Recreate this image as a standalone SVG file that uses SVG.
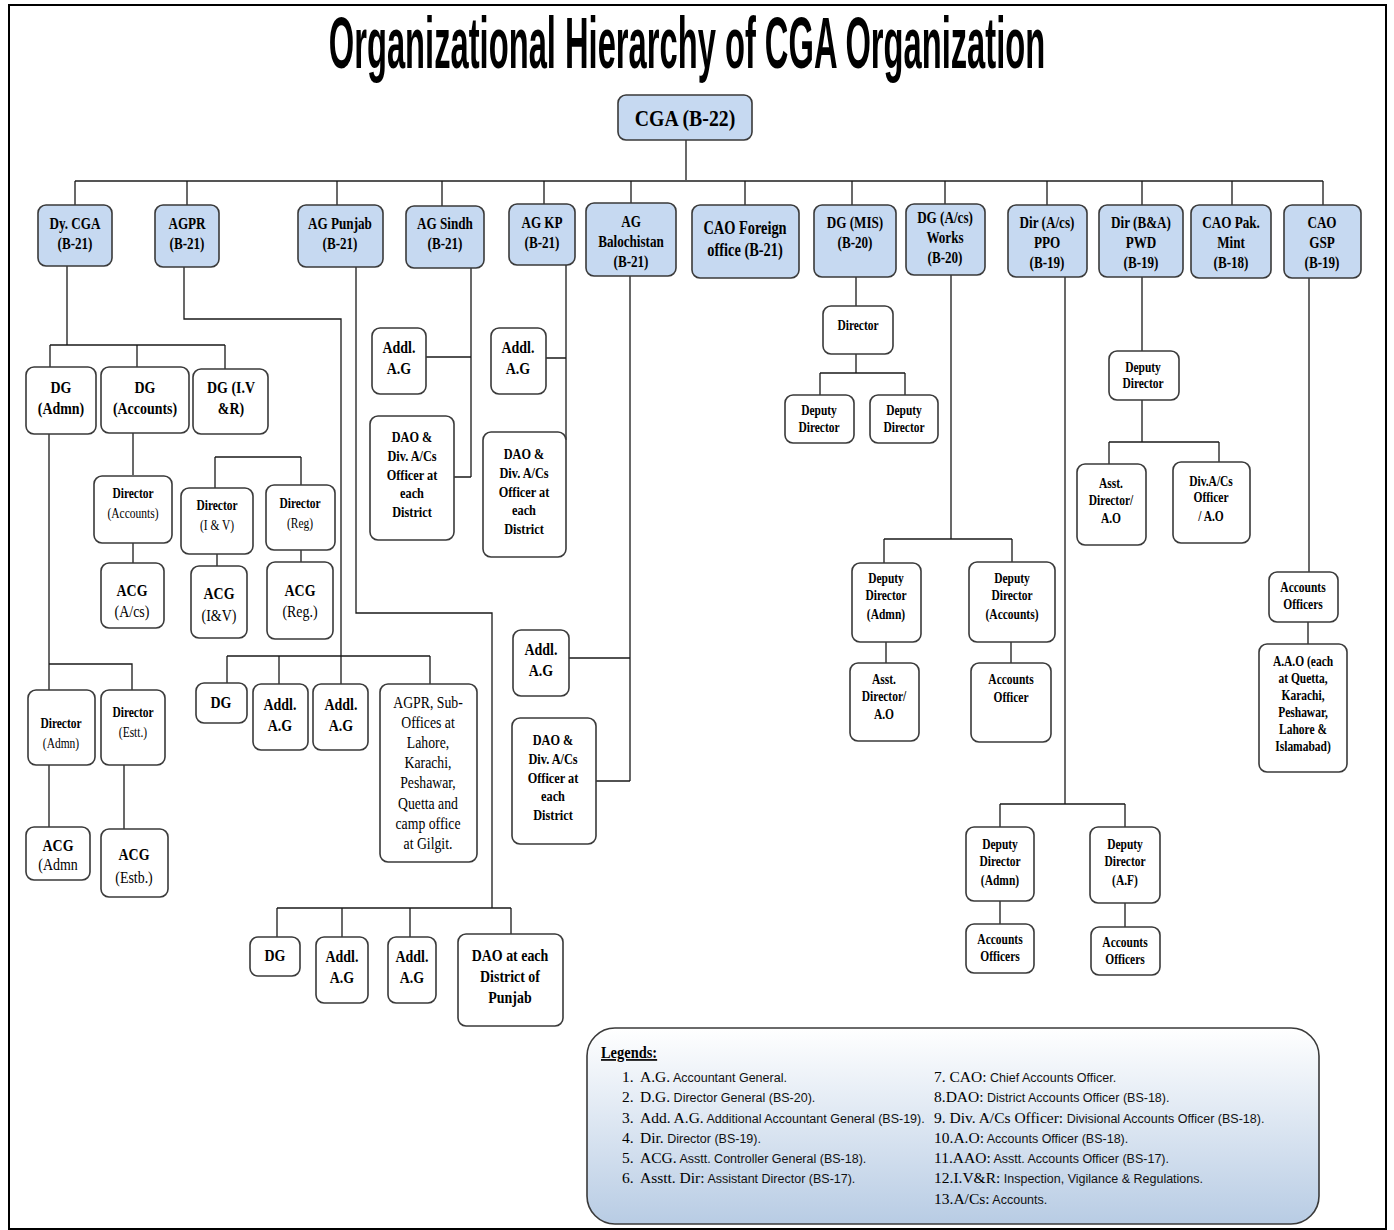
<svg xmlns="http://www.w3.org/2000/svg" width="1394" height="1230" viewBox="0 0 1394 1230">
<defs>
<linearGradient id="lg" x1="0" y1="0" x2="0" y2="1">
<stop offset="0" stop-color="#ffffff"/>
<stop offset="1" stop-color="#b8cce4"/>
</linearGradient>
</defs>
<style>
.bl{fill:#c6d9f1;stroke:#3a3a3a;stroke-width:1.6;rx:8px}
.wh{fill:#fff;stroke:#3a3a3a;stroke-width:1.6;rx:8px}
.c{fill:none;stroke:#1a1a1a;stroke-width:1.3}
.b{font-family:"Liberation Serif","Times New Roman",serif;font-weight:bold;font-size:16px;text-anchor:middle;fill:#000}
.r{font-family:"Liberation Serif","Times New Roman",serif;font-weight:normal;font-size:16px;text-anchor:middle;fill:#000}
.s14{font-size:14px}.s15{font-size:15px}.s17{font-size:17px}.s18{font-size:18px}
.nr{font-weight:normal}
.ls{font-family:"Liberation Serif","Times New Roman",serif;font-size:15.5px;fill:#000}
.lt{font-family:"Liberation Sans",Arial,sans-serif;font-size:12.5px;fill:#111}
</style>
<rect width="1394" height="1230" fill="#fff"/>
<rect x="9" y="5" width="1377" height="1224" fill="none" stroke="#000" stroke-width="2"/>
<text transform="translate(687 68) scale(.833 1)" x="0" y="0" text-anchor="middle" font-family="'Liberation Sans Narrow','Liberation Sans',Arial,sans-serif" font-weight="bold" font-size="72" textLength="860" lengthAdjust="spacingAndGlyphs" fill="#000">Organizational Hierarchy of CGA Organization</text>

<g id="connectors">
<path class="c" d="M686,140V181" />
<path d="M75,181H1323" fill="none" stroke="#555" stroke-width="2"/>
<path class="c" d="M75,181V205M187,181V205M337,181V205M442,181V206M544,181V204M631,181V203M745,181V205M852,181V205M945,181V204M1047,181V205M1142,181V205M1232,181V205M1323,181V205"/>
<path class="c" d="M67,266V345M50,345H225M50,345V367M137,345V367M225,345V369"/>
<path class="c" d="M229,378V398"/>
<path class="c" d="M49,434V690M49,664H132V690M49,765V827M124,765V829"/>
<path class="c" d="M133,432V475M133,543V563"/>
<path class="c" d="M215,457H301M215,457V488M301,457V485M217,554V566M301,550V562"/>
<path class="c" d="M184,267V319H341V656M227,656H430M227,656V683M279,656V684M341,656V684M430,656V684"/>
<path class="c" d="M356,267V613H492V908M277,908H511M277,908V937M342,908V937M410,908V937M511,908V934"/>
<path class="c" d="M471,268V477M426,357H471M454,477H471"/>
<path class="c" d="M566,265V440M546,358H566"/>
<path class="c" d="M630,276V781M569,658H630M596,781H630"/>
<path class="c" d="M856,277V306M856,354V373M820,373H905M820,373V395M905,373V395"/>
<path class="c" d="M951,275V539M884,539H1012M884,539V563M1012,539V562M886,642V663M1011,642V663"/>
<path class="c" d="M1065,277V804M1000,804H1125M1000,804V827M1125,804V827M1000,901V924M1125,903V927"/>
<path class="c" d="M1142,277V351M1142,400V442M1109,442H1219M1109,442V464M1219,442V462"/>
<path class="c" d="M1309,278V572M1308,622V644"/>
</g>

<g id="n-cga"><rect class="bl" x="618" y="95" width="134" height="45"/><text class="b" transform="translate(685 0) scale(.86 1)" style="font-size:23px"><tspan x="0" y="126">CGA (B-22)</tspan></text></g>

<g id="n-dycga"><rect class="bl" x="38" y="205" width="74" height="61"/><text class="b" transform="translate(75 0) scale(.82 1)"><tspan x="0" y="229">Dy. CGA</tspan><tspan x="0" y="249">(B-21)</tspan></text></g>
<g id="n-agpr"><rect class="bl" x="155" y="205" width="64" height="62"/><text class="b" transform="translate(187 0) scale(.82 1)"><tspan x="0" y="229">AGPR</tspan><tspan x="0" y="249">(B-21)</tspan></text></g>
<g id="n-agpunjab"><rect class="bl" x="298" y="205" width="85" height="62"/><text class="b" transform="translate(340 0) scale(.82 1)"><tspan x="0" y="229">AG Punjab</tspan><tspan x="0" y="249">(B-21)</tspan></text></g>
<g id="n-agsindh"><rect class="bl" x="406" y="206" width="78" height="62"/><text class="b" transform="translate(445 0) scale(.82 1)"><tspan x="0" y="229">AG Sindh</tspan><tspan x="0" y="249">(B-21)</tspan></text></g>
<g id="n-agkp"><rect class="bl" x="509" y="204" width="66" height="61"/><text class="b" transform="translate(542 0) scale(.82 1)"><tspan x="0" y="228">AG KP</tspan><tspan x="0" y="248">(B-21)</tspan></text></g>
<g id="n-agbal"><rect class="bl" x="586" y="203" width="90" height="73"/><text class="b" transform="translate(631 0) scale(.82 1)"><tspan x="0" y="227">AG</tspan><tspan x="0" y="247">Balochistan</tspan><tspan x="0" y="267">(B-21)</tspan></text></g>
<g id="n-caofo"><rect class="bl" x="692" y="205" width="107" height="73"/><text class="b s18" transform="translate(745 0) scale(.8 1)"><tspan x="0" y="234">CAO Foreign</tspan><tspan x="0" y="256">office (B-21)</tspan></text></g>
<g id="n-dgmis"><rect class="bl" x="814" y="205" width="82" height="72"/><text class="b" transform="translate(855 0) scale(.82 1)"><tspan x="0" y="228">DG (MIS)</tspan><tspan x="0" y="248">(B-20)</tspan></text></g>
<g id="n-dgworks"><rect class="bl" x="906" y="204" width="79" height="71"/><text class="b" transform="translate(945 0) scale(.82 1)"><tspan x="0" y="223">DG (A/cs)</tspan><tspan x="0" y="243">Works</tspan><tspan x="0" y="263">(B-20)</tspan></text></g>
<g id="n-ppo"><rect class="bl" x="1008" y="205" width="79" height="72"/><text class="b" transform="translate(1047 0) scale(.82 1)"><tspan x="0" y="228">Dir (A/cs)</tspan><tspan x="0" y="248">PPO</tspan><tspan x="0" y="268">(B-19)</tspan></text></g>
<g id="n-pwd"><rect class="bl" x="1099" y="205" width="84" height="72"/><text class="b" transform="translate(1141 0) scale(.82 1)"><tspan x="0" y="228">Dir (B&amp;A)</tspan><tspan x="0" y="248">PWD</tspan><tspan x="0" y="268">(B-19)</tspan></text></g>
<g id="n-mint"><rect class="bl" x="1191" y="205" width="80" height="73"/><text class="b" transform="translate(1231 0) scale(.82 1)"><tspan x="0" y="228">CAO Pak.</tspan><tspan x="0" y="248">Mint</tspan><tspan x="0" y="268">(B-18)</tspan></text></g>
<g id="n-gsp"><rect class="bl" x="1284" y="205" width="77" height="73"/><text class="b" transform="translate(1322 0) scale(.82 1)"><tspan x="0" y="228">CAO</tspan><tspan x="0" y="248">GSP</tspan><tspan x="0" y="268">(B-19)</tspan></text></g>

<g id="n-dgadmn"><rect class="wh" x="26" y="367" width="70" height="67"/><text class="b s17" transform="translate(61 0) scale(.82 1)"><tspan x="0" y="393">DG</tspan><tspan x="0" y="414">(Admn)</tspan></text></g>
<g id="n-dgacc"><rect class="wh" x="101" y="367" width="88" height="66"/><text class="b s17" transform="translate(145 0) scale(.82 1)"><tspan x="0" y="393">DG</tspan><tspan x="0" y="414">(Accounts)</tspan></text></g>
<g id="n-dgivr"><rect class="wh" x="193" y="369" width="75" height="65"/><text class="b s17" transform="translate(231 0) scale(.82 1)"><tspan x="0" y="393">DG (I.V</tspan><tspan x="0" y="414">&amp;R)</tspan></text></g>
<g id="n-diracc"><rect class="wh" x="94" y="476" width="78" height="67"/><text class="b s14" transform="translate(133 0) scale(.82 1)"><tspan x="0" y="498">Director</tspan><tspan x="0" y="518" class="nr">(Accounts)</tspan></text></g>
<g id="n-acgacs"><rect class="wh" x="101" y="563" width="63" height="65"/><text class="b s17" transform="translate(132 0) scale(.82 1)"><tspan x="0" y="596">ACG</tspan><tspan x="0" y="617" class="nr">(A/cs)</tspan></text></g>
<g id="n-diriv"><rect class="wh" x="181" y="488" width="72" height="66"/><text class="b s14" transform="translate(217 0) scale(.82 1)"><tspan x="0" y="510">Director</tspan><tspan x="0" y="530" class="nr">(I &amp; V)</tspan></text></g>
<g id="n-dirreg"><rect class="wh" x="266" y="485" width="69" height="65"/><text class="b s14" transform="translate(300 0) scale(.82 1)"><tspan x="0" y="508">Director</tspan><tspan x="0" y="528" class="nr">(Reg)</tspan></text></g>
<g id="n-acgiv"><rect class="wh" x="191" y="566" width="56" height="72"/><text class="b s17" transform="translate(219 0) scale(.82 1)"><tspan x="0" y="599">ACG</tspan><tspan x="0" y="621" class="nr">(I&amp;V)</tspan></text></g>
<g id="n-acgreg"><rect class="wh" x="267" y="562" width="66" height="77"/><text class="b s17" transform="translate(300 0) scale(.82 1)"><tspan x="0" y="596">ACG</tspan><tspan x="0" y="617" class="nr">(Reg.)</tspan></text></g>
<g id="n-diradmn"><rect class="wh" x="28" y="690" width="67" height="75"/><text class="b s14" transform="translate(61 0) scale(.82 1)"><tspan x="0" y="728">Director</tspan><tspan x="0" y="748" class="nr">(Admn)</tspan></text></g>
<g id="n-direstt"><rect class="wh" x="101" y="690" width="64" height="75"/><text class="b s14" transform="translate(133 0) scale(.82 1)"><tspan x="0" y="717">Director</tspan><tspan x="0" y="737" class="nr">(Estt.)</tspan></text></g>
<g id="n-acgadmn"><rect class="wh" x="26" y="827" width="64" height="53"/><text class="b s17" transform="translate(58 0) scale(.82 1)"><tspan x="0" y="851">ACG</tspan><tspan x="0" y="870" class="nr">(Admn</tspan></text></g>
<g id="n-acgestb"><rect class="wh" x="101" y="829" width="67" height="68"/><text class="b s17" transform="translate(134 0) scale(.82 1)"><tspan x="0" y="860">ACG</tspan><tspan x="0" y="883" class="nr">(Estb.)</tspan></text></g>

<g id="n-agpr-dg"><rect class="wh" x="196" y="683" width="51" height="40"/><text class="b s17" transform="translate(221 0) scale(.82 1)"><tspan x="0" y="708">DG</tspan></text></g>
<g id="n-agpr-addl1"><rect class="wh" x="253" y="684" width="55" height="66"/><text class="b s17" transform="translate(280 0) scale(.82 1)"><tspan x="0" y="710">Addl.</tspan><tspan x="0" y="731">A.G</tspan></text></g>
<g id="n-agpr-addl2"><rect class="wh" x="313" y="684" width="55" height="66"/><text class="b s17" transform="translate(341 0) scale(.82 1)"><tspan x="0" y="710">Addl.</tspan><tspan x="0" y="731">A.G</tspan></text></g>
<g id="n-agpr-sub"><rect class="wh" x="380" y="684" width="97" height="178"/><text class="r" transform="translate(428 0) scale(.86 1)"><tspan x="0" y="708">AGPR, Sub-</tspan><tspan x="0" y="728">Offices at</tspan><tspan x="0" y="748">Lahore,</tspan><tspan x="0" y="768">Karachi,</tspan><tspan x="0" y="788">Peshawar,</tspan><tspan x="0" y="809">Quetta and</tspan><tspan x="0" y="829">camp office</tspan><tspan x="0" y="849">at Gilgit.</tspan></text></g>

<g id="n-pun-dg"><rect class="wh" x="250" y="937" width="50" height="39"/><text class="b s17" transform="translate(275 0) scale(.82 1)"><tspan x="0" y="961">DG</tspan></text></g>
<g id="n-pun-addl1"><rect class="wh" x="316" y="937" width="52" height="66"/><text class="b s17" transform="translate(342 0) scale(.82 1)"><tspan x="0" y="962">Addl.</tspan><tspan x="0" y="983">A.G</tspan></text></g>
<g id="n-pun-addl2"><rect class="wh" x="388" y="937" width="48" height="66"/><text class="b s17" transform="translate(412 0) scale(.82 1)"><tspan x="0" y="962">Addl.</tspan><tspan x="0" y="983">A.G</tspan></text></g>
<g id="n-pun-dao"><rect class="wh" x="458" y="934" width="105" height="92"/><text class="b s17" transform="translate(510 0) scale(.82 1)"><tspan x="0" y="961">DAO at each</tspan><tspan x="0" y="982">District of</tspan><tspan x="0" y="1003">Punjab</tspan></text></g>

<g id="n-sin-addl"><rect class="wh" x="372" y="328" width="54" height="66"/><text class="b s17" transform="translate(399 0) scale(.82 1)"><tspan x="0" y="353">Addl.</tspan><tspan x="0" y="374">A.G</tspan></text></g>
<g id="n-sin-dao"><rect class="wh" x="370" y="416" width="84" height="124"/><text class="b s15" transform="translate(412 0) scale(.82 1)"><tspan x="0" y="442">DAO &amp;</tspan><tspan x="0" y="461">Div. A/Cs</tspan><tspan x="0" y="480">Officer at</tspan><tspan x="0" y="498">each</tspan><tspan x="0" y="517">District</tspan></text></g>
<g id="n-kp-addl"><rect class="wh" x="491" y="328" width="55" height="66"/><text class="b s17" transform="translate(518 0) scale(.82 1)"><tspan x="0" y="353">Addl.</tspan><tspan x="0" y="374">A.G</tspan></text></g>
<g id="n-kp-dao"><rect class="wh" x="483" y="432" width="83" height="125"/><text class="b s15" transform="translate(524 0) scale(.82 1)"><tspan x="0" y="459">DAO &amp;</tspan><tspan x="0" y="478">Div. A/Cs</tspan><tspan x="0" y="497">Officer at</tspan><tspan x="0" y="515">each</tspan><tspan x="0" y="534">District</tspan></text></g>
<g id="n-bal-addl"><rect class="wh" x="513" y="630" width="56" height="66"/><text class="b s17" transform="translate(541 0) scale(.82 1)"><tspan x="0" y="655">Addl.</tspan><tspan x="0" y="676">A.G</tspan></text></g>
<g id="n-bal-dao"><rect class="wh" x="512" y="718" width="84" height="126"/><text class="b s15" transform="translate(553 0) scale(.82 1)"><tspan x="0" y="745">DAO &amp;</tspan><tspan x="0" y="764">Div. A/Cs</tspan><tspan x="0" y="783">Officer at</tspan><tspan x="0" y="801">each</tspan><tspan x="0" y="820">District</tspan></text></g>

<g id="n-mis-dir"><rect class="wh" x="823" y="306" width="70" height="48"/><text class="b s14" transform="translate(858 0) scale(.82 1)"><tspan x="0" y="330">Director</tspan></text></g>
<g id="n-mis-dd1"><rect class="wh" x="785" y="395" width="69" height="48"/><text class="b s14" transform="translate(819 0) scale(.82 1)"><tspan x="0" y="415">Deputy</tspan><tspan x="0" y="432">Director</tspan></text></g>
<g id="n-mis-dd2"><rect class="wh" x="870" y="395" width="68" height="48"/><text class="b s14" transform="translate(904 0) scale(.82 1)"><tspan x="0" y="415">Deputy</tspan><tspan x="0" y="432">Director</tspan></text></g>

<g id="n-pwd-dd"><rect class="wh" x="1109" y="351" width="70" height="49"/><text class="b s14" transform="translate(1143 0) scale(.82 1)"><tspan x="0" y="372">Deputy</tspan><tspan x="0" y="388">Director</tspan></text></g>
<g id="n-pwd-ad"><rect class="wh" x="1077" y="464" width="69" height="81"/><text class="b s14" transform="translate(1111 0) scale(.82 1)"><tspan x="0" y="488">Asst.</tspan><tspan x="0" y="505">Director/</tspan><tspan x="0" y="523">A.O</tspan></text></g>
<g id="n-pwd-div"><rect class="wh" x="1173" y="462" width="77" height="81"/><text class="b s14" transform="translate(1211 0) scale(.82 1)"><tspan x="0" y="486">Div.A/Cs</tspan><tspan x="0" y="502">Officer</tspan><tspan x="0" y="521">/ A.O</tspan></text></g>

<g id="n-wk-ddadmn"><rect class="wh" x="852" y="563" width="69" height="79"/><text class="b s14" transform="translate(886 0) scale(.82 1)"><tspan x="0" y="583">Deputy</tspan><tspan x="0" y="600">Director</tspan><tspan x="0" y="619">(Admn)</tspan></text></g>
<g id="n-wk-ddacc"><rect class="wh" x="969" y="562" width="86" height="80"/><text class="b s14" transform="translate(1012 0) scale(.82 1)"><tspan x="0" y="583">Deputy</tspan><tspan x="0" y="600">Director</tspan><tspan x="0" y="619">(Accounts)</tspan></text></g>
<g id="n-wk-ad"><rect class="wh" x="850" y="663" width="69" height="78"/><text class="b s14" transform="translate(884 0) scale(.82 1)"><tspan x="0" y="684">Asst.</tspan><tspan x="0" y="701">Director/</tspan><tspan x="0" y="719">A.O</tspan></text></g>
<g id="n-wk-ao"><rect class="wh" x="971" y="663" width="80" height="79"/><text class="b s14" transform="translate(1011 0) scale(.82 1)"><tspan x="0" y="684">Accounts</tspan><tspan x="0" y="702">Officer</tspan></text></g>

<g id="n-ppo-ddadmn"><rect class="wh" x="966" y="827" width="68" height="74"/><text class="b s14" transform="translate(1000 0) scale(.82 1)"><tspan x="0" y="849">Deputy</tspan><tspan x="0" y="866">Director</tspan><tspan x="0" y="885">(Admn)</tspan></text></g>
<g id="n-ppo-ddaf"><rect class="wh" x="1090" y="827" width="70" height="76"/><text class="b s14" transform="translate(1125 0) scale(.82 1)"><tspan x="0" y="849">Deputy</tspan><tspan x="0" y="866">Director</tspan><tspan x="0" y="885">(A.F)</tspan></text></g>
<g id="n-ppo-ao1"><rect class="wh" x="966" y="924" width="68" height="49"/><text class="b s14" transform="translate(1000 0) scale(.82 1)"><tspan x="0" y="944">Accounts</tspan><tspan x="0" y="961">Officers</tspan></text></g>
<g id="n-ppo-ao2"><rect class="wh" x="1091" y="927" width="69" height="48"/><text class="b s14" transform="translate(1125 0) scale(.82 1)"><tspan x="0" y="947">Accounts</tspan><tspan x="0" y="964">Officers</tspan></text></g>

<g id="n-gsp-ao"><rect class="wh" x="1269" y="572" width="69" height="50"/><text class="b s14" transform="translate(1303 0) scale(.82 1)"><tspan x="0" y="592">Accounts</tspan><tspan x="0" y="609">Officers</tspan></text></g>
<g id="n-gsp-aao"><rect class="wh" x="1259" y="644" width="88" height="128"/><text class="b s14" transform="translate(1303 0) scale(.82 1)"><tspan x="0" y="666">A.A.O (each</tspan><tspan x="0" y="683">at Quetta,</tspan><tspan x="0" y="700">Karachi,</tspan><tspan x="0" y="717">Peshawar,</tspan><tspan x="0" y="734">Lahore &amp;</tspan><tspan x="0" y="751">Islamabad)</tspan></text></g>

<g id="legend">
<rect x="587" y="1028" width="732" height="196" rx="28" fill="url(#lg)" stroke="#3a3a3a" stroke-width="1.6"/>
<text x="601" y="1058" font-family="'Liberation Serif',serif" font-weight="bold" font-size="17" text-decoration="underline" transform="translate(601 0) scale(.85 1) translate(-601 0)">Legends:</text>
<text y="1082"><tspan class="ls" x="622">1.</tspan><tspan class="ls" x="640">A.G.</tspan><tspan class="lt"> Accountant General.</tspan></text>
<text y="1102"><tspan class="ls" x="622">2.</tspan><tspan class="ls" x="640">D.G.</tspan><tspan class="lt"> Director General (BS-20).</tspan></text>
<text y="1123"><tspan class="ls" x="622">3.</tspan><tspan class="ls" x="640">Add. A.G.</tspan><tspan class="lt"> Additional Accountant General (BS-19).</tspan></text>
<text y="1143"><tspan class="ls" x="622">4.</tspan><tspan class="ls" x="640">Dir.</tspan><tspan class="lt">  Director (BS-19).</tspan></text>
<text y="1163"><tspan class="ls" x="622">5.</tspan><tspan class="ls" x="640">ACG.</tspan><tspan class="lt"> Asstt.  Controller General (BS-18).</tspan></text>
<text y="1183"><tspan class="ls" x="622">6.</tspan><tspan class="ls" x="640">Asstt. Dir:</tspan><tspan class="lt"> Assistant Director (BS-17).</tspan></text>
<text y="1082"><tspan class="ls" x="934">7. CAO:</tspan><tspan class="lt">  Chief Accounts Officer.</tspan></text>
<text y="1102"><tspan class="ls" x="934">8.DAO:</tspan><tspan class="lt">  District Accounts Officer (BS-18).</tspan></text>
<text y="1123"><tspan class="ls" x="934">9. Div. A/Cs Officer:</tspan><tspan class="lt"> Divisional Accounts Officer (BS-18).</tspan></text>
<text y="1143"><tspan class="ls" x="934">10.A.O:</tspan><tspan class="lt"> Accounts Officer (BS-18).</tspan></text>
<text y="1163"><tspan class="ls" x="934">11.AAO:</tspan><tspan class="lt"> Asstt. Accounts Officer (BS-17).</tspan></text>
<text y="1183"><tspan class="ls" x="934">12.I.V&amp;R:</tspan><tspan class="lt"> Inspection, Vigilance &amp; Regulations.</tspan></text>
<text y="1204"><tspan class="ls" x="934">13.A/Cs:</tspan><tspan class="lt"> Accounts.</tspan></text>
</g>
</svg>
